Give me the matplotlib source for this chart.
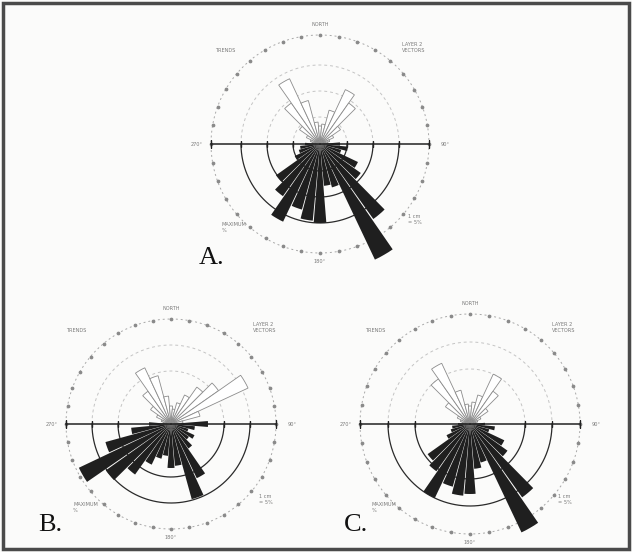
import numpy as np
import matplotlib.pyplot as plt

# rose diagram data, lengths (10 degree classes)
dirs_lower = list(range(90, 271, 10))
dirs_upper = [280, 290, 300, 310, 320, 330, 340, 350, 0, 10, 20, 30, 40, 50, 60, 70, 80]

A_lower = [20, 28, 22, 42, 50, 92, 128, 45, 42, 79, 77, 68, 86, 64, 54, 28, 22, 20, 15]
A_upper = [8, 10, 15, 25, 50, 72, 45, 22, 18, 20, 35, 60, 50, 25, 15, 10, 8]

B_lower = [37, 24, 18, 26, 22, 30, 60, 78, 42, 44, 32, 36, 45, 62, 80, 102, 68, 40, 22]
B_upper = [8, 10, 16, 25, 40, 62, 50, 28, 18, 15, 22, 32, 45, 58, 85, 30, 12]

C_lower = [15, 25, 20, 38, 46, 90, 120, 40, 45, 70, 72, 65, 82, 58, 52, 26, 20, 18, 12]
C_upper = [8, 10, 14, 30, 55, 67, 35, 20, 18, 22, 30, 55, 40, 22, 12, 8, 6]

W, H = 632, 552
fig = plt.figure(figsize=(6.32, 5.52), dpi=100)
fig.patch.set_facecolor('#fbfbfa')


def px(x, y):
    return x / W, 1 - y / H


def panel(cx, cy, rings, outer, lower, upper, letter, lx, ly):
    R = 140
    ax = fig.add_axes([(cx - R) / W, (H - cy - R) / H, 2 * R / W, 2 * R / H],
                      projection='polar')
    ax.set_theta_zero_location('N')
    ax.set_theta_direction(-1)
    ax.set_ylim(0, R)
    ax.axis('off')
    ax.patch.set_alpha(0)

    t_up = np.radians(np.linspace(-90, 90, 200))
    t_lo = np.radians(np.linspace(90, 270, 200))
    for r in rings:
        ax.plot(t_up, np.full_like(t_up, r), color='#c4c4c4', lw=0.7,
                ls=(0, (3, 3)), zorder=1)
        ax.plot(t_lo, np.full_like(t_lo, r), color='#2a2a2a', lw=0.9, zorder=1)

    # outer dotted circle with 10 degree marks
    tt = np.radians(np.linspace(0, 360, 400))
    ax.plot(tt, np.full_like(tt, outer), color='#a8a8a8', lw=0.7,
            ls=(0, (2, 3)), zorder=1)
    td = np.radians(np.arange(0, 360, 10))
    ax.plot(td, np.full_like(td, outer), 'o', ms=1.7, color='#8a8a8a', zorder=1)

    # open rose (upper half)
    ax.bar(np.radians(dirs_upper), upper, width=np.radians(10), color='white',
           edgecolor='#8c8c8c', lw=0.6, zorder=2)
    # solid rose (lower half)
    ax.bar(np.radians(dirs_lower), lower, width=np.radians(9.2), color='#1f1f1f',
           edgecolor='none', zorder=3)

    # east-west axis line with ticks
    for a in (90, 270):
        ax.plot([np.radians(a)] * 2, [0, outer], color='#222', lw=1.1, zorder=4)
        ax.plot([np.radians(a)] * len(rings), rings, '|', ms=4, color='#222',
                zorder=4)
        ax.plot([np.radians(a)], [outer], '|', ms=6, color='#222', zorder=4)

    # small (illegible in the scan) annotations
    fs = 3.6
    c = '#7a7a7a'
    fig.text(*px(cx, cy - outer - 9), 'NORTH', fontsize=fs, color=c, ha='center')
    fig.text(*px(cx + outer + 12, cy), '90°', fontsize=fs, color=c, va='center')
    fig.text(*px(cx - outer - 20, cy), '270°', fontsize=fs, color=c, va='center')
    fig.text(*px(cx, cy + outer + 10), '180°', fontsize=fs, color=c, ha='center')
    fig.text(*px(cx + 82, cy - 92), 'LAYER 2\nVECTORS', fontsize=fs, color=c)
    fig.text(*px(cx - 105, cy - 92), 'TRENDS', fontsize=fs, color=c)
    fig.text(*px(cx - 98, cy + 88), 'MAXIMUM\n%', fontsize=fs, color=c)
    fig.text(*px(cx + 88, cy + 80), '1 cm\n= 5%', fontsize=fs, color=c)

    fig.text(*px(lx, ly), letter, fontsize=19, color='#111',
             family='Liberation Serif')


panel(320, 144, [27, 53, 79], 109, A_lower, A_upper, 'A.', 199, 264)
panel(171, 424, [53, 79], 105, B_lower, B_upper, 'B.', 38, 531)
panel(470, 424, [55, 82], 110, C_lower, C_upper, 'C.', 344, 531)

fig.add_artist(plt.Rectangle((0.004, 0.006), 0.991, 0.988,
                             transform=fig.transFigure, fill=False,
                             ec='#4a4a4a', lw=2.5))

fig.savefig('out.png', dpi=100, facecolor=fig.get_facecolor())
